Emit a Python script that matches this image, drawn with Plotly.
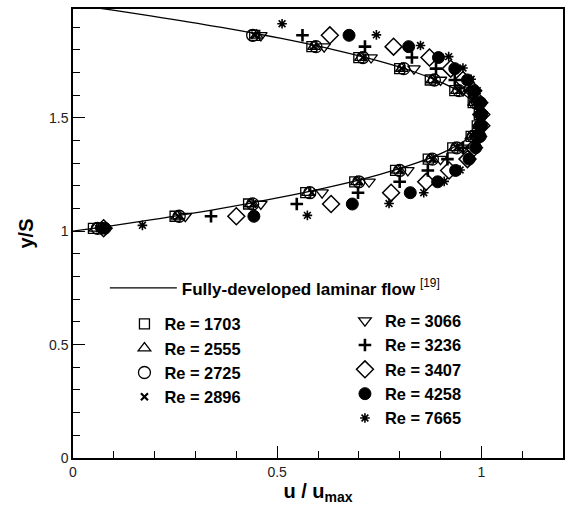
import plotly.graph_objects as go

# Fully-developed laminar profile
curve_y = [1.00, 1.025, 1.05, 1.10, 1.15, 1.20, 1.25, 1.30, 1.35, 1.40, 1.45, 1.50,
           1.55, 1.60, 1.65, 1.70, 1.75, 1.80, 1.85, 1.90, 1.95, 1.975, 2.00]
curve_x = [0.0, 0.0975, 0.19, 0.36, 0.51, 0.64, 0.75, 0.84, 0.91, 0.96, 0.99, 1.0,
           0.99, 0.96, 0.91, 0.84, 0.75, 0.64, 0.51, 0.36, 0.19, 0.0975, 0.0]

# measurement stations (y/S)
levels = [1.013, 1.066, 1.12, 1.17, 1.218, 1.268, 1.318, 1.368, 1.418, 1.465, 1.515,
          1.567, 1.62, 1.667, 1.717, 1.766, 1.814, 1.864]

re_1703 = [0.05, 0.25, 0.43, 0.57, 0.69, 0.79, 0.87, 0.93, 0.975, 0.99, 0.995, 0.98, 0.935, 0.875, 0.80, 0.70, 0.585, 0.445]
re_2555 = [0.055, 0.255, 0.435, 0.575, 0.695, 0.795, 0.875, 0.935, 0.975, 0.995, 0.998, 0.982, 0.94, 0.88, 0.805, 0.705, 0.59, 0.45]
re_2725 = [0.06, 0.26, 0.44, 0.58, 0.70, 0.80, 0.88, 0.94, 0.98, 0.997, 1.0, 0.985, 0.945, 0.885, 0.81, 0.71, 0.595, 0.44]
re_2896 = [0.065, 0.258, 0.44, 0.585, 0.70, 0.80, 0.88, 0.94, 0.98, 0.997, 1.0, 0.985, 0.945, 0.885, 0.805, 0.71, 0.59, 0.445]
re_3066 = [0.07, 0.275, 0.46, 0.61, 0.725, 0.82, 0.90, 0.955, 0.99, 1.0, 1.0, 0.99, 0.955, 0.90, 0.835, 0.73, 0.615, 0.46]
re_3236 = [0.07, 0.338, 0.548, 0.698, 0.80, 0.869, 0.917, 0.955, 0.985, 1.0, 1.0, 0.995, 0.97, 0.935, 0.889, 0.830, 0.715, 0.562]
re_3407 = [0.075, 0.40, 0.632, 0.779, 0.865, 0.921, 0.966, 0.982, 0.992, 1.0, 1.0, 0.995, 0.98, 0.955, 0.925, 0.873, 0.785, 0.629]
re_4258 = [0.078, 0.443, 0.684, 0.826, 0.893, 0.937, 0.970, 0.986, 0.997, 1.0, 1.0, 0.998, 0.982, 0.966, 0.935, 0.895, 0.822, 0.676]

levels_7665 = [1.026, 1.07, 1.122, 1.17, 1.22, 1.27, 1.32, 1.37, 1.42, 1.47, 1.52, 1.57,
               1.62, 1.67, 1.72, 1.77, 1.819, 1.866, 1.915]
re_7665 = [0.17, 0.574, 0.774, 0.859, 0.909, 0.948, 0.968, 0.985, 0.995, 1.0, 1.0, 1.0,
           0.99, 0.975, 0.955, 0.92, 0.851, 0.743, 0.512]

series_left = [
    ("Re = 1703", re_1703, "square-open", 10, 1.3),
    ("Re = 2555", re_2555, "triangle-up-open", 11, 1.3),
    ("Re = 2725", re_2725, "circle-open", 12, 1.3),
    ("Re = 2896", re_2896, "x-thin-open", 7, 2.2),
]
series_right = [
    ("Re = 3066", re_3066, "triangle-down-open", 11, 1.3),
    ("Re = 3236", re_3236, "cross-thin-open", 9, 2.6),
    ("Re = 3407", re_3407, "diamond-open", 13, 1.5),
    ("Re = 4258", re_4258, "circle", 12, 1),
]

fig = go.Figure()
fig.add_trace(go.Scatter(
    x=curve_x, y=curve_y, mode="lines", line=dict(color="black", width=1.3, shape="spline"),
    name="<b>Fully-developed laminar flow</b> <sup>[19]</sup>", legend="legend"))

for name, xs, sym, size, lw in series_left:
    fig.add_trace(go.Scatter(x=xs, y=levels, mode="markers", name="<b>" + name + "</b>",
                             marker=dict(symbol=sym, size=size, color="black",
                                         line=dict(color="black", width=lw)),
                             legend="legend2"))
for name, xs, sym, size, lw in series_right:
    fig.add_trace(go.Scatter(x=xs, y=levels, mode="markers", name="<b>" + name + "</b>",
                             marker=dict(symbol=sym, size=size, color="black",
                                         line=dict(color="black", width=lw)),
                             legend="legend3"))
fig.add_trace(go.Scatter(x=re_7665, y=levels_7665, mode="markers", name="<b>Re = 7665</b>",
                         marker=dict(symbol="asterisk-open", size=8, color="black",
                                     line=dict(color="black", width=1.6)),
                         legend="legend3"))

font_family = "Liberation Sans, Arial, sans-serif"


def leg(x, y, size, **kw):
    return dict(x=x, y=y, bgcolor="rgba(0,0,0,0)", borderwidth=0,
                font=dict(family=font_family, size=size, color="black"),
                xanchor="left", yanchor="top", **kw)


fig.update_layout(
    width=570, height=514,
    margin=dict(l=73, r=5, t=9, b=56),
    paper_bgcolor="white", plot_bgcolor="white",
    font=dict(family=font_family, color="black"),
    showlegend=True,
    legend=leg(0.065, 0.418, 17, itemwidth=67),
    legend2=leg(0.105, 0.337, 16.4),
    legend3=leg(0.555, 0.344, 16.4),
    xaxis=dict(range=[0, 1.2], tick0=0, dtick=0.5, ticks="inside", ticklen=12, tickwidth=1.2,
               tickcolor="black", showline=True, linecolor="black", linewidth=1.5, mirror=True,
               showgrid=False, zeroline=False,
               tickfont=dict(size=14, color="#222"),
               minor=dict(dtick=0.1, ticks="inside", ticklen=7, tickwidth=1.2, tickcolor="black"),
               title=dict(text="<b>u / u<sub>max</sub></b>", font=dict(size=20), standoff=3)),
    yaxis=dict(range=[0, 1.98], tick0=0, dtick=0.5, ticks="inside", ticklen=12, tickwidth=1.2,
               tickcolor="black", showline=True, linecolor="black", linewidth=1.5, mirror=True,
               showgrid=False, zeroline=False,
               tickfont=dict(size=14, color="#222"),
               minor=dict(dtick=0.1, ticks="inside", ticklen=7, tickwidth=1.2, tickcolor="black"),
               title=dict(text="<b>y/S</b>", font=dict(size=20), standoff=10)),
)

fig.write_html("out.html")
